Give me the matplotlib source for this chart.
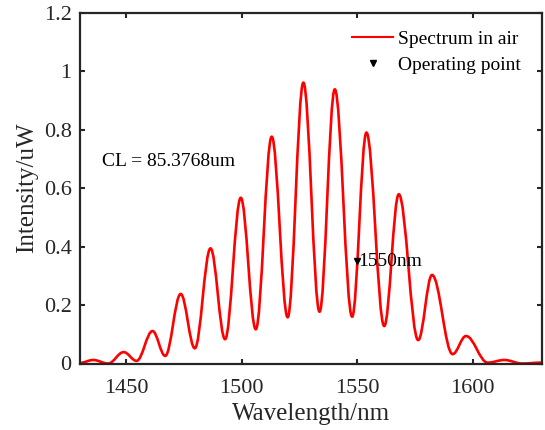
import numpy as np
import matplotlib
matplotlib.use("Agg")
import matplotlib.pyplot as plt
from matplotlib.path import Path
from matplotlib.patches import PathPatch
from matplotlib.lines import Line2D
from matplotlib.ticker import FuncFormatter

# Extrema of the spectrum (wavelength nm, intensity uW)
wavelength = [1430.0, 1435.7, 1442.2, 1448.9, 1454.5, 1461.4, 1466.9, 1473.6,
              1479.7, 1486.5, 1492.8, 1499.6, 1506.1, 1513.0, 1519.9, 1526.7,
              1533.7, 1540.3, 1547.8, 1554.0, 1561.7, 1568.0, 1576.4, 1582.4,
              1591.3, 1597.1, 1606.5, 1613.7, 1621.4, 1630.0]
intensity = [0.002, 0.012, 0.000, 0.039, 0.009, 0.111, 0.026, 0.238,
             0.052, 0.394, 0.083, 0.567, 0.117, 0.776, 0.158, 0.961,
             0.177, 0.938, 0.160, 0.790, 0.128, 0.579, 0.080, 0.303,
             0.032, 0.094, 0.003, 0.012, 0.000, 0.003]

op_x = [1550]
op_y = [0.35]
op_text = "1550nm"
cl_text = "CL = 85.3768um"
xticks = [1450, 1500, 1550, 1600]
yticks = [0, 0.2, 0.4, 0.6, 0.8, 1.0, 1.2]

plt.rcParams['font.family'] = ['Liberation Serif', 'DejaVu Serif']
plt.rcParams['mathtext.fontset'] = 'stix'

fig = plt.figure(figsize=(5.45, 4.30), dpi=100)
ax = fig.add_axes([80/545, 1-363.5/430, (542-80)/545, (363.5-12.7)/430])

dark = '#262626'
# smooth curve through the extrema (horizontal tangents at each extremum)
k = 0.3676
verts = [(wavelength[0], intensity[0])]
codes = [Path.MOVETO]
for i in range(len(wavelength) - 1):
    x0, y0 = wavelength[i], intensity[i]
    x1, y1 = wavelength[i + 1], intensity[i + 1]
    d = x1 - x0
    verts += [(x0 + k * d, y0), (x1 - k * d, y1), (x1, y1)]
    codes += [Path.CURVE4] * 3
patch = PathPatch(Path(verts, codes), facecolor='none', edgecolor='red',
                  lw=1.9, transform=ax.transData, capstyle='round', joinstyle='round')
ax.add_patch(patch)
line_handle = Line2D([], [], color='red', lw=1.5, label='Spectrum in air')

mk, = ax.plot(op_x, op_y, linestyle='none', marker='v', color='black',
              markersize=5, label='Operating point')
ax.text(op_x[0] + 0.5, op_y[0], op_text, fontsize=14, ha='left', va='center',
        color='black')
ax.text(1439.4, 0.69, cl_text, fontsize=14, ha='left', va='center', color='black')

ax.set_xlim(1430, 1630)
ax.set_ylim(0, 1.2)
ax.set_xticks(xticks)
ax.set_yticks(yticks)
ax.yaxis.set_major_formatter(FuncFormatter(lambda v, p: f"{v:g}"))
ax.tick_params(direction='in', length=3.6, width=1.5, colors=dark,
               labelsize=16, top=True, right=True)
ax.tick_params(axis='x', pad=11)
ax.tick_params(axis='y', pad=6)
for s in ax.spines.values():
    s.set_linewidth(1.6)
    s.set_color(dark)
ax.set_xlabel('Wavelength/nm', fontsize=18, color=dark, labelpad=4)
ax.set_ylabel('Intensity/uW', fontsize=18, color=dark, labelpad=4)

leg = ax.legend(handles=[line_handle, mk], loc='upper left',
                bbox_to_anchor=(351.7/545, 1-30.5/430), bbox_transform=fig.transFigure,
                frameon=False, fontsize=14, handlelength=2.14, handletextpad=0.26,
                borderpad=0, borderaxespad=0, labelspacing=0.4)

fig.savefig('out.png', dpi=100)
